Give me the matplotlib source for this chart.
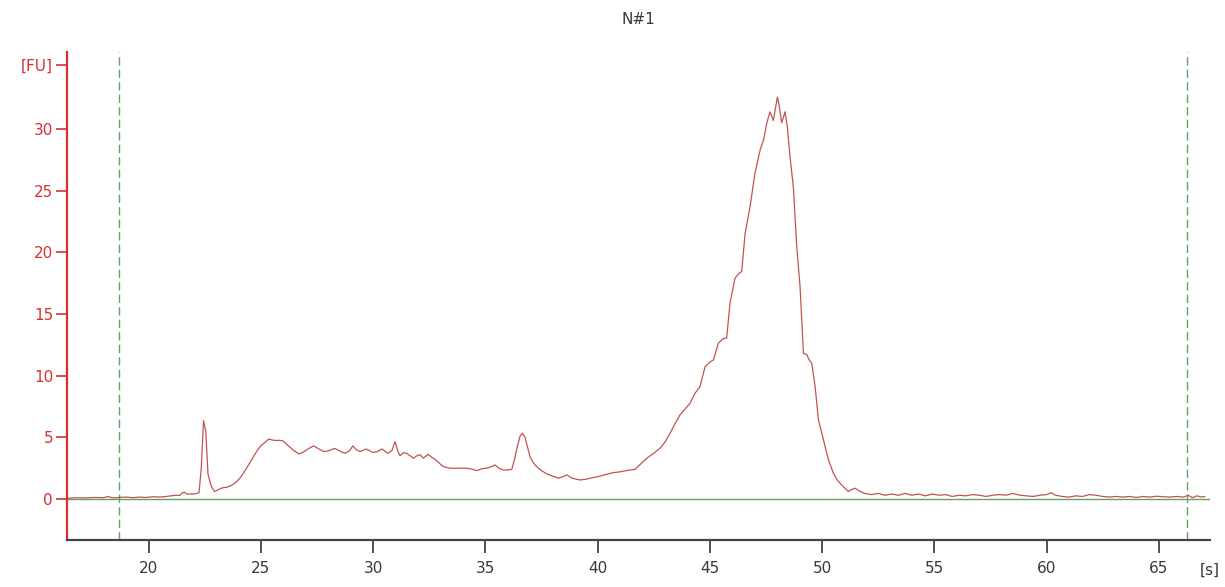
import matplotlib
matplotlib.use("Agg")
import matplotlib.pyplot as plt
import matplotlib.transforms as mtransforms

# Electropherogram trace: migration time [s] vs fluorescence [FU]
time_s = [
    16.40, 16.80, 17.20, 17.60, 18.00, 18.20, 18.40, 18.70, 19.00, 19.30,
    19.60, 19.90, 20.20, 20.50, 20.80, 21.00, 21.20, 21.40, 21.50, 21.60,
    21.70, 21.90, 22.10, 22.25, 22.35, 22.45, 22.55, 22.65, 22.80, 22.95,
    23.10, 23.30, 23.50, 23.70, 23.90, 24.10, 24.30, 24.50, 24.70, 24.85,
    25.00, 25.20, 25.35, 25.60, 25.85, 26.00, 26.20, 26.45, 26.70, 26.90,
    27.10, 27.35, 27.55, 27.80, 28.00, 28.30, 28.50, 28.75, 28.95, 29.10,
    29.25, 29.42, 29.70, 30.00, 30.20, 30.40, 30.65, 30.85, 30.98, 31.10,
    31.20, 31.35, 31.50, 31.80, 32.00, 32.10, 32.24, 32.46, 32.60, 32.76,
    32.95, 33.13, 33.40, 33.60, 33.90, 34.17, 34.40, 34.62, 34.85, 35.06,
    35.25, 35.43, 35.60, 35.80, 36.00, 36.18, 36.30, 36.42, 36.55, 36.65,
    36.77, 36.88, 36.99, 37.15, 37.29, 37.50, 37.74, 38.00, 38.25, 38.45,
    38.63, 38.85, 39.05, 39.22, 39.50, 39.70, 39.96, 40.30, 40.70, 41.00,
    41.30, 41.67, 41.90, 42.19, 42.50, 42.78, 43.00, 43.23, 43.45, 43.67,
    43.90, 44.12, 44.34, 44.56, 44.79, 45.00, 45.16, 45.38, 45.60, 45.75,
    45.90, 46.12, 46.30, 46.42, 46.57, 46.79, 47.01, 47.24, 47.39, 47.54,
    47.68, 47.83, 48.01, 48.10, 48.20, 48.35, 48.45, 48.57, 48.72, 48.87,
    49.02, 49.17, 49.32, 49.42, 49.54, 49.69, 49.84, 50.06, 50.28, 50.50,
    50.65, 50.80, 51.00, 51.17, 51.30, 51.47, 51.70, 51.90, 52.20, 52.50,
    52.80, 53.10, 53.40, 53.70, 54.00, 54.30, 54.60, 54.90, 55.20, 55.50,
    55.80, 56.10, 56.40, 56.70, 57.00, 57.30, 57.60, 57.90, 58.20, 58.50,
    58.80, 59.10, 59.40, 59.70, 60.00, 60.20, 60.40, 60.70, 61.00, 61.30,
    61.60, 61.90, 62.20, 62.50, 62.80, 63.10, 63.40, 63.70, 64.00, 64.30,
    64.60, 64.90, 65.20, 65.50, 65.80, 66.10, 66.30, 66.50, 66.70, 66.90,
    67.05,
]
fluorescence = [
    0.05, 0.10, 0.08, 0.12, 0.10, 0.20, 0.08, 0.12, 0.15, 0.10,
    0.15, 0.12, 0.18, 0.15, 0.20, 0.25, 0.30, 0.28, 0.50, 0.55,
    0.40, 0.40, 0.42, 0.50, 2.50, 6.35, 5.50, 2.00, 1.00, 0.60,
    0.75, 0.90, 0.95, 1.10, 1.35, 1.75, 2.30, 2.90, 3.50, 3.95,
    4.30, 4.60, 4.85, 4.75, 4.75, 4.70, 4.35, 3.95, 3.65, 3.80,
    4.05, 4.30, 4.10, 3.84, 3.90, 4.10, 3.90, 3.70, 3.90, 4.30,
    4.00, 3.84, 4.05, 3.76, 3.85, 4.05, 3.70, 3.95, 4.65, 3.90,
    3.50, 3.75, 3.70, 3.30, 3.55, 3.57, 3.30, 3.62, 3.40, 3.22,
    2.90, 2.62, 2.50, 2.49, 2.50, 2.49, 2.42, 2.30, 2.45, 2.49,
    2.60, 2.76, 2.50, 2.35, 2.35, 2.40, 3.20, 4.20, 5.10, 5.33,
    5.00, 4.20, 3.43, 2.90, 2.62, 2.30, 2.03, 1.85, 1.68, 1.80,
    1.95, 1.70, 1.60, 1.54, 1.60, 1.70, 1.78, 1.95, 2.13, 2.20,
    2.30, 2.40, 2.80, 3.30, 3.70, 4.11, 4.60, 5.33, 6.10, 6.81,
    7.30, 7.76, 8.57, 9.10, 10.73, 11.10, 11.27, 12.63, 13.00, 13.05,
    15.90, 17.90, 18.30, 18.44, 21.50, 23.70, 26.40, 28.30, 29.10, 30.50,
    31.40, 30.70, 32.60, 31.80, 30.50, 31.40, 30.20, 27.80, 25.30, 20.50,
    17.20, 11.80, 11.70, 11.30, 11.00, 9.10, 6.40, 4.80, 3.20, 2.10,
    1.60, 1.27, 0.90, 0.60, 0.75, 0.87, 0.60, 0.45, 0.35, 0.45,
    0.30, 0.40, 0.30, 0.45, 0.30, 0.40, 0.25, 0.40, 0.30, 0.35,
    0.20, 0.30, 0.25, 0.35, 0.30, 0.20, 0.30, 0.35, 0.30, 0.45,
    0.30, 0.25, 0.20, 0.30, 0.35, 0.50, 0.30, 0.20, 0.15, 0.25,
    0.20, 0.35, 0.30, 0.20, 0.15, 0.20, 0.15, 0.20, 0.12, 0.20,
    0.15, 0.22, 0.18, 0.15, 0.20, 0.15, 0.30, 0.10, 0.25, 0.15,
    0.20,
]

x_ticks = [20, 25, 30, 35, 40, 45, 50, 55, 60, 65]
y_ticks = [0, 5, 10, 15, 20, 25, 30]
marker_times = [18.67, 66.24]  # lower / upper marker positions
x_range = (16.37, 67.28)
y_range = (-3.33, 36.25)
fu_label_pos = 35.2

RED = "#d83030"
TRACE = "#c25252"
GREEN = "#62a262"
DARK = "#383838"

fig = plt.figure(figsize=(12.25, 5.87), dpi=100)
ax = fig.add_axes([0.0547, 0.0801, 0.9331, 0.8313])

ax.axhline(0, color=GREEN, lw=1.0, zorder=1)
for mt in marker_times:
    ax.axvline(mt, color=GREEN, lw=1.0, ls=(0, (6, 3)), zorder=1)

ax.plot(time_s, fluorescence, color=TRACE, lw=0.9, zorder=2)

ax.set_xlim(*x_range)
ax.set_ylim(*y_range)

for side in ("top", "right"):
    ax.spines[side].set_visible(False)
ax.spines["left"].set_color(RED)
ax.spines["left"].set_linewidth(1.6)
ax.spines["bottom"].set_color("#444444")
ax.spines["bottom"].set_linewidth(1.6)

ax.set_xticks(x_ticks)
ax.set_xticklabels([str(v) for v in x_ticks])
ax.set_yticks(y_ticks + [fu_label_pos])
ax.set_yticklabels([str(v) for v in y_ticks] + ["[FU]"])

ax.tick_params(axis="y", colors=RED, labelcolor=RED, length=8, width=1.2,
               pad=2, labelsize=11)
ax.tick_params(axis="x", colors="#333333", labelcolor=DARK, length=9,
               width=1.2, pad=6, labelsize=11)

# unit label at the end of the time axis, level with the tick labels
trans = mtransforms.blended_transform_factory(ax.transData, ax.transAxes)
ax.text(x_range[1], -0.062, "[s]", transform=trans, ha="center",
        va="center", fontsize=11, color=DARK)

ax.set_title("N#1", fontsize=11, color=DARK, pad=20)

fig.savefig("out.png", dpi=100)
